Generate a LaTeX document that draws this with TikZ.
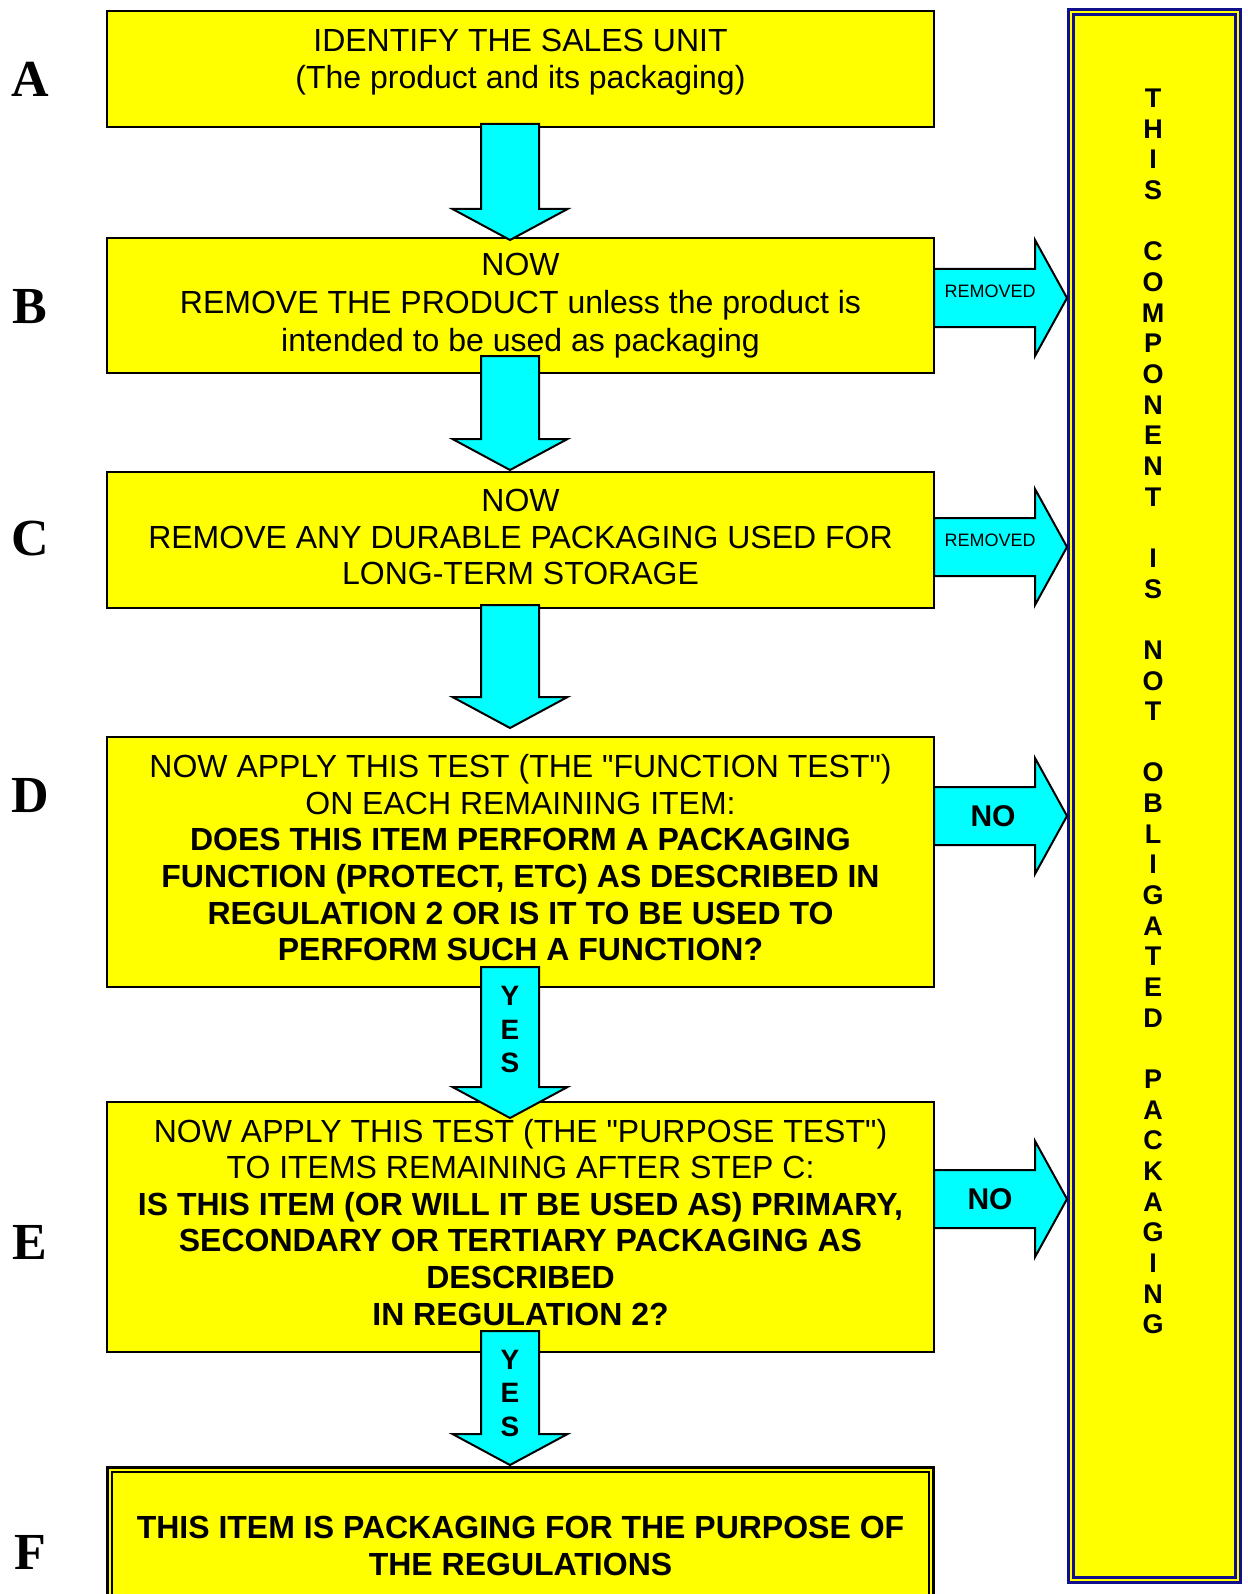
\documentclass[tikz,border=0pt]{standalone}
\usepackage{fontspec}
\setmainfont{Liberation Sans}
\newfontfamily\serifletter{Liberation Serif}
\usepackage{xcolor,tikz}
\definecolor{boxyellow}{RGB}{255,255,0}
\definecolor{arrowcyan}{RGB}{0,255,255}
\definecolor{sidenavy}{RGB}{16,16,140}
\usetikzlibrary{calc,positioning}
\tikzset{
  stepbox/.style={draw=black,line width=2pt,fill=boxyellow,minimum width=827pt,inner sep=0pt,outer sep=0pt,align=center,font=\fontsize{32}{36.6}\selectfont},
  finalbox/.style={draw=black,fill=boxyellow,line width=2.5pt,double=boxyellow,double distance=2pt,minimum width=821.5pt,inner sep=0pt,outer sep=0pt,align=center,font=\bfseries\fontsize{32}{36.6}\selectfont},
  sidebox/.style={draw=sidenavy,fill=boxyellow,line width=3pt,double=boxyellow,double distance=2pt,minimum width=167pt,minimum height=1568pt,inner sep=0pt,outer sep=0pt},
  blockarrow/.style={draw=black,line width=2pt,fill=arrowcyan,line join=miter},
  steplabel/.style={font=\serifletter\bfseries\fontsize{52}{52}\selectfont,inner sep=0pt},
  arrowtxt/.style={font=\fontsize{18}{20}\selectfont,inner sep=0pt},
  notxt/.style={font=\bfseries\fontsize{30}{32}\selectfont,inner sep=0pt},
  yestxt/.style={font=\bfseries\fontsize{28}{33.5}\selectfont,align=center,inner sep=0pt}
}
\newcommand\lift[1]{\rule[-#1]{0pt}{0pt}}
\newcommand\downblock[2]{%
\draw[blockarrow] let \p1=#1, \p2=#2 in
  (\x1-29pt,\y1) -- (\x1+29pt,\y1) -- (\x1+29pt,\y2+31pt) -- (\x1+57.5pt,\y2+31pt)
  -- (\x1,\y2) -- (\x1-57.5pt,\y2+31pt) -- (\x1-29pt,\y2+31pt) -- cycle;}
\newcommand\rightblock[2]{%
\draw[blockarrow] let \p1=#1, \p2=#2 in
  (\x1,\y1-29pt) -- (\x2-32pt,\y1-29pt) -- (\x2-32pt,\y1-58pt) -- (\x2,\y1)
  -- (\x2-32pt,\y1+58pt) -- (\x2-32pt,\y1+29pt) -- (\x1,\y1+29pt) -- cycle;}
\begin{document}
\begin{tikzpicture}[x=1pt,y=-1pt]
\useasboundingbox (0,0) rectangle (1247,1594);
\clip (0,0) rectangle (1247,1594);
\node[sidebox] (side) at (1154.5,796) {};
\node[font=\bfseries\fontsize{27}{30.65}\selectfont,align=center,inner sep=0pt] (sidetxt) at (1153,711.5)
  {T\\H\\I\\S\\~\\C\\O\\M\\P\\O\\N\\E\\N\\T\\~\\I\\S\\~\\N\\O\\T\\~\\O\\B\\L\\I\\G\\A\\T\\E\\D\\~\\P\\A\\C\\K\\A\\G\\I\\N\\G};
\node[stepbox,minimum height=116pt] (boxA) at (520.5,69) {};
\node[align=center,inner sep=0pt,font=\fontsize{32}{36.6}\selectfont] (txtA) at ($(boxA)+(0,-7)$)
  {IDENTIFY THE SALES UNIT\\(The product and its packaging)};
\node[stepbox,minimum height=135pt,below=111pt of boxA,font=\fontsize{32}{38}\selectfont] (boxB)
  {NOW\\REMOVE THE PRODUCT unless the product is\\intended to be used as packaging};
\node[stepbox,minimum height=136pt,below=99pt of boxB] (boxC)
  {NOW\\REMOVE ANY DURABLE PACKAGING USED FOR\\LONG-TERM STORAGE\lift{6pt}};
\node[stepbox,minimum height=250pt,below=129pt of boxC] (boxD)
  {NOW APPLY THIS TEST (THE \textquotedbl FUNCTION TEST\textquotedbl)\\ON EACH REMAINING ITEM:\\
   \textbf{DOES THIS ITEM PERFORM A PACKAGING}\\\textbf{FUNCTION (PROTECT, ETC) AS DESCRIBED IN}\\
   \textbf{REGULATION 2 OR IS IT TO BE USED TO}\\\textbf{PERFORM SUCH A FUNCTION?}\lift{9pt}};
\node[stepbox,minimum height=250pt,below=115pt of boxD] (boxE)
  {NOW APPLY THIS TEST (THE \textquotedbl PURPOSE TEST\textquotedbl)\\TO ITEMS REMAINING AFTER STEP C:\\
   \textbf{IS THIS ITEM (OR WILL IT BE USED AS) PRIMARY,}\\\textbf{SECONDARY OR TERTIARY PACKAGING AS}\\
   \textbf{DESCRIBED}\\\textbf{IN REGULATION 2?}\lift{10pt}};
\node[finalbox,minimum height=153pt,below=117.5pt of boxE] (boxF)
  {THIS ITEM IS PACKAGING FOR THE PURPOSE OF\\THE REGULATIONS};
\downblock{($(boxA.south)+(-10.5,-3)$)}{($(boxB.north)+(-10.5,2)$)}
\downblock{($(boxB.south)+(-10.5,-17)$)}{($(boxC.north)+(-10.5,-2)$)}
\downblock{($(boxC.south)+(-10.5,-3)$)}{($(boxD.north)+(-10.5,-9)$)}
\downblock{($(boxD.south)+(-10.5,-20)$)}{($(boxE.north)+(-10.5,16)$)}
\downblock{($(boxE.south)+(-10.5,-21)$)}{($(boxF.north)+(-10.5,-4.5)$)}
\rightblock{($(boxB.east)+(0,-7.5)$)}{($(side.west)+(-4,0)$)}
\rightblock{($(boxC.east)+(0,7)$)}{($(side.west)+(-4,0)$)}
\rightblock{($(boxD.east)+(0,-46)$)}{($(side.west)+(-4,0)$)}
\rightblock{($(boxE.east)+(0,-28)$)}{($(side.west)+(-4,0)$)}
\node[arrowtxt] (remB) at (990,291) {REMOVED};
\node[arrowtxt] (remC) at (990,540) {REMOVED};
\node[notxt] (noD) at (993,816) {NO};
\node[notxt] (noE) at (990,1199) {NO};
\node[yestxt] (yesD) at (510,1029.5) {Y\\E\\S};
\node[yestxt] (yesE) at (510,1393) {Y\\E\\S};
\node[steplabel] (labA) at (30,79) {A};
\node[steplabel] (labB) at (30,307) {B};
\node[steplabel] (labC) at (30,539) {C};
\node[steplabel] (labD) at (30,796) {D};
\node[steplabel] (labE) at (30,1242) {E};
\node[steplabel] (labF) at (30,1552) {F};
\end{tikzpicture}
\end{document}
